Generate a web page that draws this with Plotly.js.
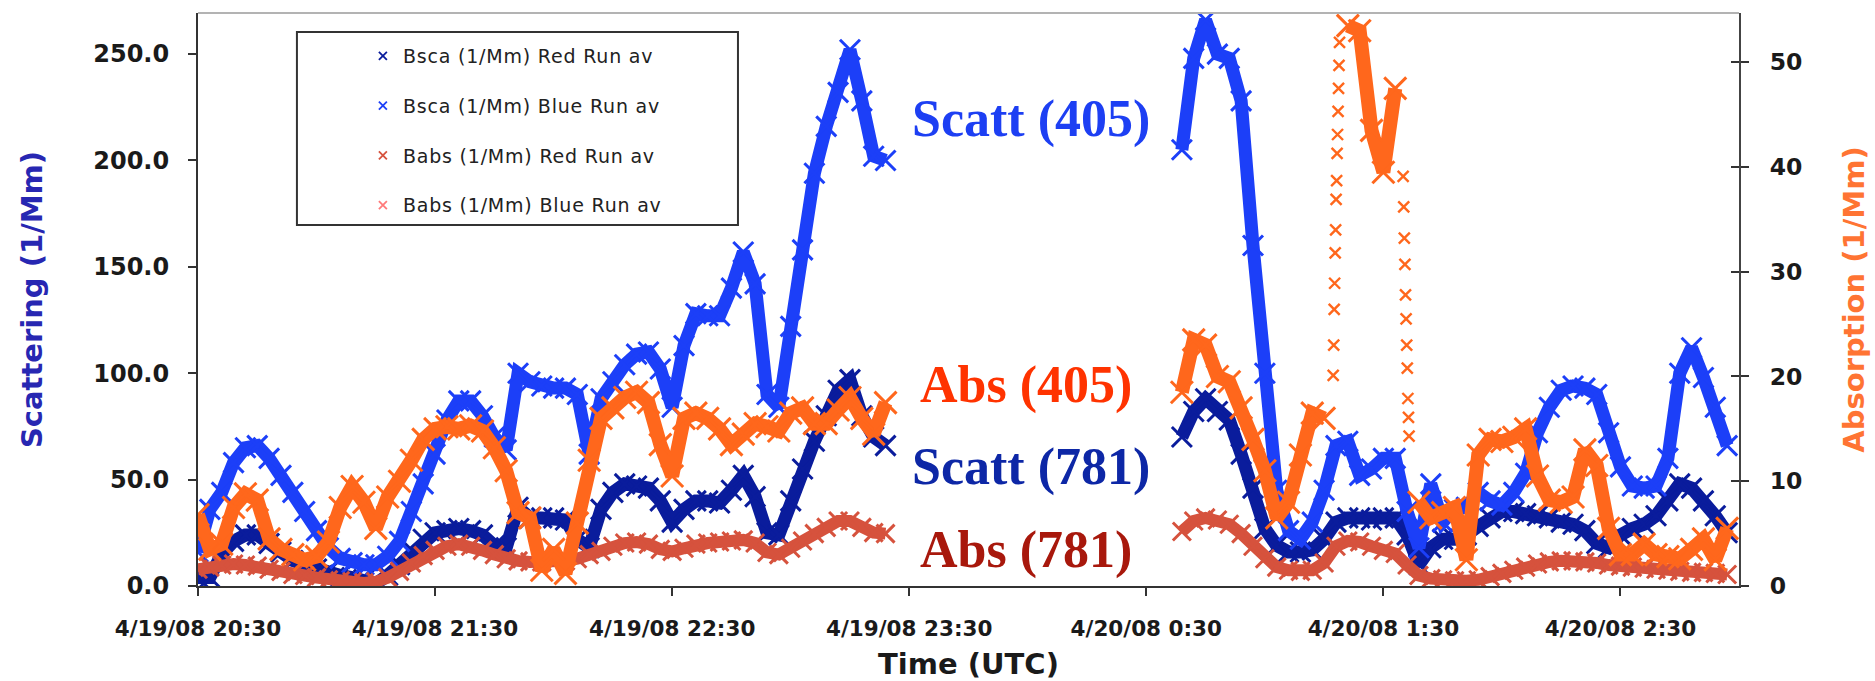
<!DOCTYPE html>
<html>
<head>
<meta charset="utf-8">
<script src="https://cdn.plot.ly/plotly-3.0.1.min.js"></script>
<style>
html,body{margin:0;padding:0;background:#ffffff;}
#chart{width:1875px;height:681px;}
.legendtext{letter-spacing:0.8px;}
</style>
</head>
<body>
<div id="chart"></div>
<script>
// ---- sampling grid (two measurement segments, 3-minute samples) ----
const seg1Start = '2008-04-19 20:30';
const seg2Start = '2008-04-20 00:39';
const stepMinutes = 3;

// ---- Bsca (1/Mm) Red Run av  -> Scatt (781), left axis ----
const bscaRedSeg1 = [4,4,15,21,24,24,20,16,12,10, 8,7,5,4,3,1,5,10,17,22,
  25,26,27,26,24,19,18,37,32,32, 32,31,22,18,36,44,48,47,46,40,
  30,36,40,40,39,45,52,42,25,24, 40,55,68,80,92,97,80,70,66];
const bscaRedSeg2 = [70,82,88,82,78,62,46,27,19,16, 16,17,22,30,32,32,31,32,32,24,
  10,18,22,22,24,28,32,35,35,34, 33,32,30,29,26,20,18,24,27,29,
  33,40,48,46,40,33,25];

// ---- Bsca (1/Mm) Blue Run av -> Scatt (405), left axis ----
const bscaBlueSeg1 = [16,36,44,58,65,66,60,52,44,35, 26,18,13,11,10,10,14,21,35,48,
  62,78,87,87,80,70,64,100,96,94, 93,93,90,62,88,96,104,109,110,102,
  84,113,128,127,127,140,157,142,90,84, 122,158,194,216,232,252,228,202,200];
const bscaBlueSeg2 = [205,248,266,250,248,228,160,100,45,26, 22,30,45,66,68,52,55,60,60,35,
  18,48,30,36,37,44,40,38,44,53, 72,84,92,94,93,90,72,56,47,46,
  47,60,100,112,98,84,66];

// ---- Babs (1/Mm) Red Run av -> Abs (781), right axis ----
const babsRedSeg1 = [1.6,1.8,2.0,2.1,2.0,1.9,1.6,1.4,1.1,1.0, 0.8,0.6,0.5,0.4,0.3,0.4,0.8,1.4,2.2,2.9,
  3.4,3.8,4.0,3.8,3.4,3.0,2.6,2.4,2.3,2.3, 2.4,2.4,2.6,3.0,3.3,3.8,4.1,4.2,4.0,3.5,
  3.3,3.6,4.0,4.1,4.2,4.3,4.4,4.1,3.2,3.0, 3.6,4.3,5.0,5.6,6.2,6.2,5.6,5.1,5.0];
const babsRedSeg2 = [5.2,6.2,6.5,6.3,5.9,5.0,3.8,2.6,1.8,1.5, 1.4,1.5,2.2,3.8,4.3,4.2,3.8,3.4,3.1,2.0,
  1.0,0.7,0.6,0.5,0.5,0.6,0.9,1.2,1.5,1.8, 2.1,2.3,2.4,2.4,2.3,2.2,2.0,1.9,1.8,1.7,
  1.6,1.5,1.4,1.3,1.3,1.2,1.1];

// ---- Babs (1/Mm) Blue Run av -> Abs (405), right axis ----
const babsBlueSeg1 = [6.8,3.5,4.0,7.5,8.8,8.2,4.5,3.5,3.0,2.5, 2.8,4.2,7.5,9.5,8.0,5.5,8.5,10.0,12.0,14.0,
  15.0,15.2,15.0,15.3,14.8,13.2,11.0,7.0,6.5,1.5, 3.5,1.2,6.0,12.0,16.0,17.0,18.0,18.5,17.5,13.5,
  10.5,16.0,16.5,16.0,15.0,13.5,14.5,15.5,15.2,14.8, 16.5,17.0,15.5,15.5,16.8,18.0,16.0,14.5,17.5];
const babsBlueSeg2 = [18.5,23.5,23.0,20.0,19.5,17.0,14.0,11.0,6.5,8.0, 12.5,16.5,16.0,null,53.5,53.0,43.5,39.5,47.5,null,
  8.0,6.5,7.0,7.5,2.5,12.5,14.0,13.8,14.2,15.0, 10.5,8.2,8.0,8.5,13.0,11.5,5.5,3.0,3.0,4.0,
  3.0,2.8,2.6,3.5,4.5,2.5,5.5];
// fast transitions of Babs Blue: individual samples visible as dotted columns
const babsBlueFastTimes = ['2008-04-20 01:17:18','2008-04-20 01:17:26','2008-04-20 01:17:33','2008-04-20 01:17:40',
  '2008-04-20 01:17:48','2008-04-20 01:17:55','2008-04-20 01:18:02','2008-04-20 01:18:10','2008-04-20 01:18:17',
  '2008-04-20 01:18:24','2008-04-20 01:18:32','2008-04-20 01:18:39','2008-04-20 01:18:46','2008-04-20 01:18:54',
  '2008-04-20 01:35:00','2008-04-20 01:35:09','2008-04-20 01:35:18','2008-04-20 01:35:27','2008-04-20 01:35:36',
  '2008-04-20 01:35:45','2008-04-20 01:35:54','2008-04-20 01:36:03','2008-04-20 01:36:12','2008-04-20 01:36:21',
  '2008-04-20 01:36:30'];
const babsBlueFastValues = [20.1,23.0,26.4,28.9,31.8,34.0,36.9,38.7,41.3,43.1,45.3,47.5,49.7,51.9,
  39.1,36.2,33.2,30.7,27.8,25.5,23.0,20.8,17.9,16.1,14.3];

// ---- labels ----
const seriesNames = ['Bsca (1/Mm) Red Run av','Bsca (1/Mm) Blue Run av','Babs (1/Mm) Red Run av','Babs (1/Mm) Blue Run av'];
const leftTicks = [0,50,100,150,200,250];
const rightTicks = [0,10,20,30,40,50];

function buildTimes(start, count, stepMin) {
  const parts = start.split(' ');
  const base = Date.parse(parts[0] + 'T' + parts[1] + ':00Z');
  const out = [];
  for (let i = 0; i < count; i++) {
    out.push(new Date(base + i * stepMin * 60000).toISOString().slice(0, 19).replace('T', ' '));
  }
  return out;
}
const t1 = buildTimes(seg1Start, bscaRedSeg1.length, stepMinutes);
const t2 = buildTimes(seg2Start, bscaRedSeg2.length, stepMinutes);
const gapTime = '2008-04-20 00:00';
const times = t1.concat([gapTime], t2);
function join(a, b) { return a.concat([null], b); }

const cNavy = '#0a1c9c';
const cBlue = '#1c3ff8';
const cBrick = '#d6523d';
const cOrange = '#ff671c';

function band(y, color, axis, lw, ms) {
  return {
    type: 'scatter', mode: 'lines+markers', x: times, y: y, yaxis: axis,
    showlegend: false, hoverinfo: 'skip', connectgaps: false,
    line: {color: color, width: lw},
    marker: {symbol: 'x-thin', size: ms, color: color, line: {color: color, width: 3}}
  };
}
function legendEntry(name, color, axis, grp) {
  return {
    type: 'scatter', mode: 'markers', x: [null], y: [null], yaxis: axis,
    name: name, legendgroup: grp, showlegend: true,
    marker: {symbol: 'x-thin', size: 8, color: color, line: {color: color, width: 1.8}}
  };
}

const traces = [
  band(join(bscaRedSeg1, bscaRedSeg2), cNavy, 'y', 13, 20),
  band(join(bscaBlueSeg1, bscaBlueSeg2), cBlue, 'y', 13, 20),
  band(join(babsRedSeg1, babsRedSeg2), cBrick, 'y2', 12, 18),
  band(join(babsBlueSeg1, babsBlueSeg2), cOrange, 'y2', 14, 22),
  {type: 'scatter', mode: 'markers', x: babsBlueFastTimes, y: babsBlueFastValues, yaxis: 'y2',
   showlegend: false, hoverinfo: 'skip',
   marker: {symbol: 'x-thin', size: 11, color: cOrange, line: {color: cOrange, width: 2.4}}},
  legendEntry(seriesNames[0], cNavy, 'y', 'g1'),
  legendEntry(seriesNames[1], cBlue, 'y', 'g2'),
  legendEntry(seriesNames[2], cBrick, 'y3', 'g3'),
  legendEntry(seriesNames[3], '#ff7a7a', 'y3', 'g4')
];

const tickFont = {family: 'DejaVu Sans', size: 21.5, color: '#1a1a1a', weight: 'bold'};
const axisLine = '#333333';

const layout = {
  width: 1875, height: 681,
  margin: {l: 198, r: 136, t: 13, b: 95, pad: 0},
  paper_bgcolor: '#ffffff', plot_bgcolor: '#ffffff',
  showlegend: true,
  font: {family: 'DejaVu Sans', color: '#222222'},
  xaxis: {
    type: 'date', range: ['2008-04-19 20:30', '2008-04-20 03:00'],
    tick0: '2008-04-19 20:30', dtick: 3600000, tickformat: '%-m/%-d/%y %-H:%M',
    ticks: 'outside', ticklen: 8, tickwidth: 2, tickcolor: axisLine,
    showline: true, linecolor: axisLine, linewidth: 2, showgrid: false, zeroline: false,
    tickfont: tickFont, ticklabelstandoff: 14,
    title: {text: 'Time (UTC)', standoff: 16,
            font: {family: 'DejaVu Sans', size: 29, color: '#1a1a1a', weight: 'bold'}}
  },
  yaxis: {
    range: [0, 269.3], tickvals: leftTicks, tickformat: '.1f',
    ticks: 'outside', ticklen: 8, tickwidth: 2, tickcolor: axisLine,
    showline: true, linecolor: axisLine, linewidth: 2, showgrid: false, zeroline: false,
    tickfont: Object.assign({}, tickFont, {size: 24}), ticklabelstandoff: 14,
    title: {text: 'Scattering (1/Mm)', standoff: 42,
            font: {family: 'DejaVu Sans', size: 29, color: '#2727b2', weight: 'bold'}}
  },
  yaxis2: {
    overlaying: 'y', side: 'right', range: [0, 54.7], tickvals: rightTicks,
    ticks: 'outside', ticklen: 8, tickwidth: 2, tickcolor: axisLine,
    showline: true, linecolor: '#444444', linewidth: 2, showgrid: false, zeroline: false,
    tickfont: Object.assign({}, tickFont, {size: 23.5}), ticklabelstandoff: 16,
    title: {text: 'Absorption (1/Mm)', standoff: 42,
            font: {family: 'DejaVu Sans', size: 29, color: '#ff7433', weight: 'bold'}}
  },
  yaxis3: {
    overlaying: 'y', side: 'right', range: [0, 54.7], tickvals: rightTicks,
    ticks: 'inside', ticklen: 8, tickwidth: 2, tickcolor: axisLine,
    showticklabels: false, showline: false, showgrid: false, zeroline: false
  },
  legend: {
    x: 0.1070, xanchor: 'left', y: 0.958, yanchor: 'top',
    bgcolor: 'rgba(0,0,0,0)', borderwidth: 0, tracegroupgap: 22,
    font: {family: 'DejaVu Sans', size: 19, color: '#222222'}
  },
  shapes: [
    {type: 'rect', xref: 'paper', yref: 'paper', x0: 0.0642, x1: 0.3504, y0: 0.630, y1: 0.967,
     line: {color: '#333333', width: 2}, fillcolor: 'rgba(0,0,0,0)'},
    {type: 'line', xref: 'paper', yref: 'paper', x0: 0, x1: 1, y0: 1, y1: 1,
     line: {color: '#b3b3b3', width: 2}}
  ],
  annotations: [
    {text: 'Scatt (405)', xref: 'paper', yref: 'paper', x: 0.4620, y: 0.815, xanchor: 'left', yanchor: 'middle',
     showarrow: false, font: {family: 'Liberation Serif', size: 52, color: '#1d3ff3', weight: 'bold'}},
    {text: 'Abs (405)', xref: 'paper', yref: 'paper', x: 0.4672, y: 0.3508, xanchor: 'left', yanchor: 'middle',
     showarrow: false, font: {family: 'Liberation Serif', size: 52, color: '#ff3300', weight: 'bold'}},
    {text: 'Scatt (781)', xref: 'paper', yref: 'paper', x: 0.4620, y: 0.2077, xanchor: 'left', yanchor: 'middle',
     showarrow: false, font: {family: 'Liberation Serif', size: 52, color: '#0d27a6', weight: 'bold'}},
    {text: 'Abs (781)', xref: 'paper', yref: 'paper', x: 0.4672, y: 0.0628, xanchor: 'left', yanchor: 'middle',
     showarrow: false, font: {family: 'Liberation Serif', size: 52, color: '#a8180c', weight: 'bold'}}
  ]
};

Plotly.newPlot('chart', traces, layout, {staticPlot: true, displayModeBar: false});
</script>
</body>
</html>
